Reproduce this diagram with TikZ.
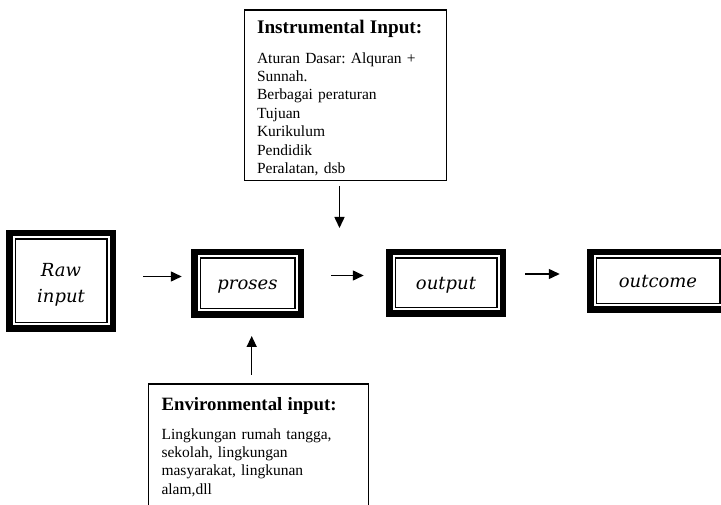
\documentclass[tikz,border=0pt]{standalone}
\usepackage{fontspec}
\setmainfont{Liberation Serif}
\newfontfamily\boxfont{DejaVu Serif}
\usepackage{tikz}
\usetikzlibrary{arrows.meta,positioning}
\frenchspacing

\begin{document}
\begin{tikzpicture} [x=1pt,y=-1pt,
    frame/.style= {draw,line width=6.5pt,inner sep=0pt,align=center,font=\boxfont\itshape\fontsize{18}{26}\selectfont,
        path picture={\draw[line width=1.1pt] ([shift={(5.8pt,5.8pt)}]path picture bounding box.south west) rectangle ([shift={(-5.8pt,-5.8pt)}]path picture bounding box.north east);}},
    oneline/.style= {text height=13pt,text depth=0pt},
    infobox/.style= {draw,line width=1.1pt,anchor=north west,align=left,inner xsep=13pt,inner ysep=5pt,font=\fontsize{15.5}{18.4}\selectfont},
    arr/.style= {-{Triangle[length=11pt,width=10pt]},line width=1.5pt}]
    \useasboundingbox (0,0) rectangle (721,505);

    \node[frame,minimum width=103.5pt,minimum height=95.5pt] (raw) at (61,281) {\rule{0pt}{21pt}Raw\\input};
    \node[frame,oneline,minimum width=106.5pt,minimum height=62.5pt] (proses) at (247.5,283.5) {proses};
    \node[frame,oneline,minimum width=113.5pt,minimum height=61.5pt] (output) at (446,283) {output};
    \node[frame,oneline,minimum width=135.5pt,minimum height=57.5pt] (outcome) at (658,281) {outcome};

    \node[infobox,text width=176pt] (instr) at (243.5,9.5) {%
        {\bfseries\fontsize{19.2}{22}\selectfont\rule{0pt}{18.6pt}Instrumental Input:}\\[11pt]
        Aturan Dasar: Alquran +\\ Sunnah.\\ Berbagai peraturan\\ Tujuan\\ Kurikulum\\ Pendidik\\ Peralatan, dsb};
    \node[infobox,text width=193pt,inner xsep=13.5pt] (env) at (147.5,383.5) {%
        {\bfseries\fontsize{18.8}{22}\selectfont\rule{0pt}{21.6pt}Environmental input:}\\[10pt]
        Lingkungan rumah tangga,\\ sekolah, lingkungan\\ masyarakat, lingkunan\\ alam,dll\rule[-15pt]{0pt}{15pt}};

    \coordinate (join) at (339.5,228);
    \draw[arr,shorten <=27.25pt,shorten >=9.25pt] ([yshift=4.5pt]raw.east) -- ([yshift=4.5pt]raw.east -| proses.west);
    \draw[arr,shorten <=27.25pt,shorten >=22.25pt] ([yshift=8pt]proses.east) -- ([yshift=8pt]proses.east -| output.west);
    \draw[arr,shorten <=19.25pt,shorten >=27.25pt] ([yshift=9pt]output.east) -- ([yshift=9pt]output.east -| outcome.west);
    \draw[arr,shorten <=4.5pt] (instr.south -| join) -- (join);
    \draw[arr,shorten <=8.5pt,shorten >=18pt] ([xshift=4.2pt]proses.south |- env.north) -- ([xshift=4.2pt]proses.south);
\end{tikzpicture}
\end{document}
